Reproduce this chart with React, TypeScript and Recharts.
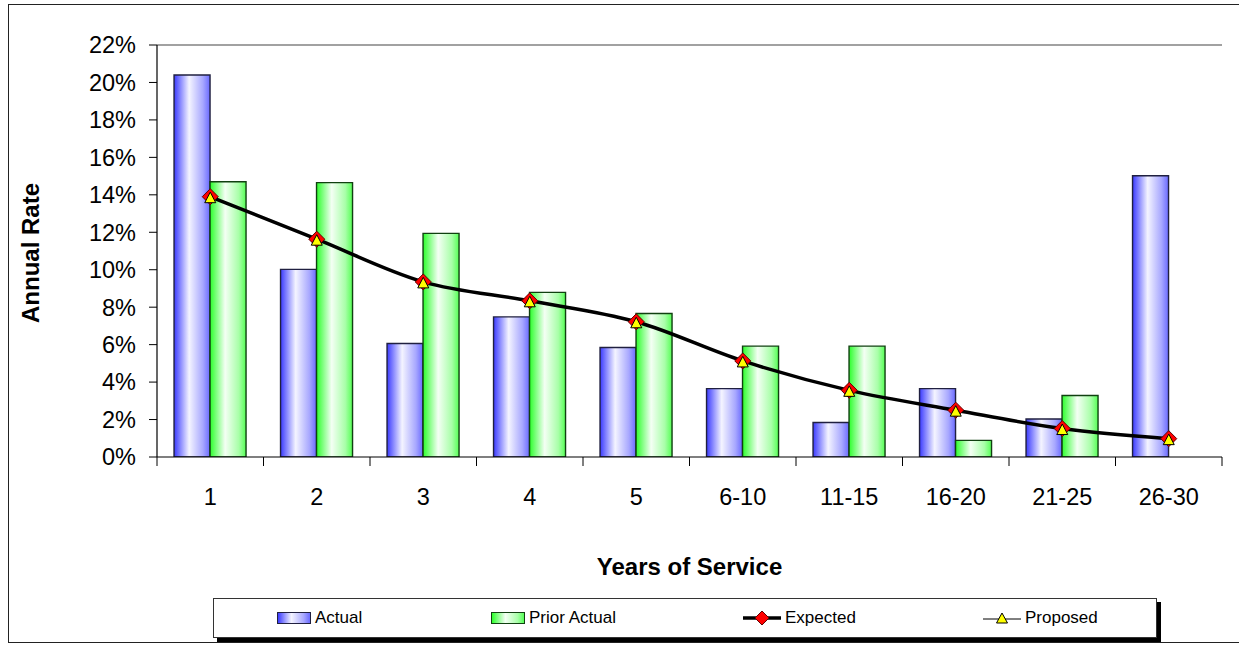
import React from 'react';
import { ComposedChart, Bar, Line, XAxis, YAxis, ReferenceLine, Label } from 'recharts';

const categories = ['1', '2', '3', '4', '5', '6-10', '11-15', '16-20', '21-25', '26-30'];
const actual = [20.4, 10.02, 6.06, 7.48, 5.85, 3.65, 1.84, 3.65, 2.03, 15.02];
const priorActual: (number | null)[] = [14.7, 14.65, 11.94, 8.79, 7.66, 5.92, 5.92, 0.89, 3.28, null];
const expected = [13.9, 11.63, 9.35, 8.34, 7.22, 5.13, 3.56, 2.5, 1.52, 0.98];
const proposed = [13.9, 11.63, 9.35, 8.34, 7.22, 5.13, 3.56, 2.5, 1.52, 0.98];
const yTicks = [0, 2, 4, 6, 8, 10, 12, 14, 16, 18, 20, 22];

const data = categories.map((c, i) => ({
  cat: c,
  actual: actual[i],
  prior: priorActual[i],
  expected: expected[i],
  proposed: proposed[i],
}));

const FONT = '"Liberation Sans", Arial, Helvetica, sans-serif';
const TICK_FS = 23.5;
const X_TICK_SIZE = 9;
const X_TICK_MARGIN = 22;

const BLUE_GRAD = 'linear-gradient(to right, #3a3aff 0%, #f4f4ff 42%, #a8a8ff 80%, #6a6aff 100%)';
const GREEN_GRAD = 'linear-gradient(to right, #2cff2c 0%, #f4fff4 42%, #a8ffa8 80%, #55ff55 100%)';

const XTick = (props: any) => {
  const { x, y, payload, index, visibleTicksCount } = props;
  const half = payload && typeof payload.offset === 'number' ? payload.offset : 0;
  const axisY = y - X_TICK_SIZE - X_TICK_MARGIN;
  return (
    <g>
      <line x1={x - half} x2={x - half} y1={axisY} y2={axisY + X_TICK_SIZE} stroke="#000" strokeWidth={1} />
      {index === visibleTicksCount - 1 && (
        <line x1={x + half} x2={x + half} y1={axisY} y2={axisY + X_TICK_SIZE} stroke="#000" strokeWidth={1} />
      )}
      <text x={x} y={y} dy="0.71em" textAnchor="middle" fill="#000" fontSize={TICK_FS} fontFamily={FONT}>
        {payload.value}
      </text>
    </g>
  );
};

const Diamond = (props: any) => {
  const { cx, cy } = props;
  if (cx == null || cy == null) return <g />;
  const s = 8;
  return (
    <path
      d={`M${cx},${cy - s} L${cx + s},${cy} L${cx},${cy + s} L${cx - s},${cy} Z`}
      fill="#ff0000"
      stroke="#600000"
      strokeWidth={1}
    />
  );
};

const Triangle = (props: any) => {
  const { cx, cy } = props;
  if (cx == null || cy == null) return <g />;
  return (
    <path
      d={`M${cx},${cy - 4.5} L${cx + 5.5},${cy + 6} L${cx - 5.5},${cy + 6} Z`}
      fill="#ffff00"
      stroke="#000"
      strokeWidth={1}
    />
  );
};

const LegendItem = ({ kind, label }: { kind: string; label: string }) => {
  let marker: React.ReactNode = null;
  if (kind === 'actual' || kind === 'prior') {
    marker = (
      <div
        style={{
          width: 34,
          height: 12,
          background: kind === 'actual' ? BLUE_GRAD : GREEN_GRAD,
          border: `1px solid ${kind === 'actual' ? '#202040' : '#104010'}`,
          boxSizing: 'border-box',
        }}
      />
    );
  } else if (kind === 'expected') {
    marker = (
      <svg width={38} height={18}>
        <line x1={0} x2={38} y1={9} y2={9} stroke="#000" strokeWidth={3.5} />
        <path d="M19,2 L26,9 L19,16 L12,9 Z" fill="#ff0000" stroke="#600000" strokeWidth={1} />
      </svg>
    );
  } else {
    marker = (
      <svg width={38} height={18}>
        <line x1={0} x2={38} y1={10} y2={10} stroke="#000" strokeWidth={1} />
        <path d="M19,4 L24.5,14 L13.5,14 Z" fill="#ffff00" stroke="#000" strokeWidth={1} />
      </svg>
    );
  }
  return (
    <div style={{ display: 'flex', alignItems: 'center', gap: 4 }}>
      {marker}
      <span style={{ fontSize: 17, fontFamily: FONT, color: '#000' }}>{label}</span>
    </div>
  );
};

export default function App() {
  return (
    <div
      style={{
        position: 'absolute',
        left: 0,
        top: 0,
        width: 1239,
        height: 645,
        background: '#fff',
        overflow: 'hidden',
      }}
    >
      <div
        style={{
          position: 'absolute',
          left: 8,
          top: 4,
          width: 1240,
          height: 639,
          border: '1.5px solid #222',
          boxSizing: 'border-box',
        }}
      />
      <div style={{ position: 'absolute', left: 0, top: 0 }}>
        <ComposedChart
          width={1239}
          height={645}
          data={data}
          margin={{ top: 45, right: 17, left: 0, bottom: 70 }}
          barCategoryGap="16%"
          barGap={0}
          style={{ fontFamily: FONT }}
        >
          <defs>
            <linearGradient id="gradBlue" x1="0" y1="0" x2="1" y2="0">
              <stop offset="0%" stopColor="#3a3aff" />
              <stop offset="42%" stopColor="#f4f4ff" />
              <stop offset="80%" stopColor="#a8a8ff" />
              <stop offset="100%" stopColor="#6a6aff" />
            </linearGradient>
            <linearGradient id="gradGreen" x1="0" y1="0" x2="1" y2="0">
              <stop offset="0%" stopColor="#2cff2c" />
              <stop offset="42%" stopColor="#f4fff4" />
              <stop offset="80%" stopColor="#a8ffa8" />
              <stop offset="100%" stopColor="#55ff55" />
            </linearGradient>
          </defs>
          <XAxis
            dataKey="cat"
            height={118}
            axisLine={{ stroke: '#000', strokeWidth: 1.2 }}
            tickLine={{ stroke: 'none' }}
            tickSize={X_TICK_SIZE}
            tickMargin={X_TICK_MARGIN}
            interval={0}
            tick={<XTick />}
          >
            <Label
              content={(p: any) => {
                const vb = p.viewBox || {};
                return (
                  <text
                    x={vb.x + vb.width / 2}
                    y={vb.y + vb.height}
                    textAnchor="middle"
                    fontSize={24}
                    fontWeight="bold"
                    fontFamily={FONT}
                    fill="#000"
                  >
                    Years of Service
                  </text>
                );
              }}
            />
          </XAxis>
          <YAxis
            width={157}
            domain={[0, 22]}
            ticks={yTicks}
            interval={0}
            allowDataOverflow
            tickFormatter={(v: number) => `${v}%`}
            axisLine={{ stroke: '#000', strokeWidth: 1.2 }}
            tickLine={{ stroke: '#000' }}
            tickSize={8}
            tickMargin={13}
            tick={{ fontSize: TICK_FS, fill: '#000', fontFamily: FONT }}
          >
            <Label
              content={(p: any) => {
                const vb = p.viewBox || {};
                const cx = vb.x + 30;
                const cy = vb.y + vb.height / 2 + 2;
                return (
                  <text
                    x={cx}
                    y={cy}
                    transform={`rotate(-90, ${cx}, ${cy})`}
                    textAnchor="middle"
                    dominantBaseline="central"
                    fontSize={24}
                    fontWeight="bold"
                    fontFamily={FONT}
                    fill="#000"
                  >
                    Annual Rate
                  </text>
                );
              }}
            />
          </YAxis>
          <YAxis
            yAxisId="r"
            orientation="right"
            width={0}
            domain={[0, 22]}
            tick={false}
            tickLine={false}
            axisLine={{ stroke: '#666', strokeWidth: 1.2 }}
          />
          <ReferenceLine y={22} stroke="#444" strokeWidth={1.2} />
          <Bar
            dataKey="actual"
            name="Actual"
            fill="url(#gradBlue)"
            stroke="#202040"
            strokeWidth={1.4}
            isAnimationActive={false}
          />
          <Bar
            dataKey="prior"
            name="Prior Actual"
            fill="url(#gradGreen)"
            stroke="#104010"
            strokeWidth={1.4}
            isAnimationActive={false}
          />
          <Line
            dataKey="expected"
            name="Expected"
            type="monotone"
            stroke="#000"
            strokeWidth={3.5}
            dot={(p: any) => <Diamond key={`d-${p.index}`} {...p} />}
            activeDot={false}
            isAnimationActive={false}
          />
          <Line
            dataKey="proposed"
            name="Proposed"
            type="monotone"
            stroke="#000"
            strokeWidth={1}
            dot={(p: any) => <Triangle key={`t-${p.index}`} {...p} />}
            activeDot={false}
            isAnimationActive={false}
          />
        </ComposedChart>
      </div>
      <div
        style={{
          position: 'absolute',
          left: 213,
          top: 598,
          width: 944,
          height: 40,
          background: '#fff',
          border: '1px solid #333',
          boxSizing: 'border-box',
          boxShadow: '4px 4px 0 #000',
        }}
      >
        <div style={{ position: 'absolute', left: 277 - 214, top: 9 }}>
          <LegendItem kind="actual" label="Actual" />
        </div>
        <div style={{ position: 'absolute', left: 491 - 214, top: 9 }}>
          <LegendItem kind="prior" label="Prior Actual" />
        </div>
        <div style={{ position: 'absolute', left: 743 - 214, top: 9 }}>
          <LegendItem kind="expected" label="Expected" />
        </div>
        <div style={{ position: 'absolute', left: 983 - 214, top: 9 }}>
          <LegendItem kind="proposed" label="Proposed" />
        </div>
      </div>
    </div>
  );
}
